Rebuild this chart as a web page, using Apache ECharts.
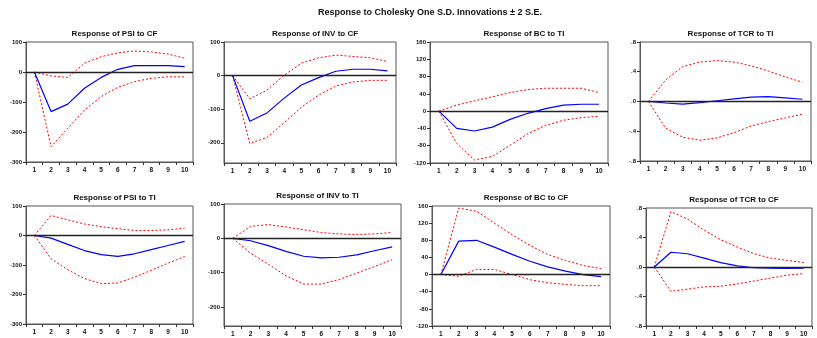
<!DOCTYPE html>
<html><head><meta charset="utf-8">
<script src="https://cdn.jsdelivr.net/npm/echarts@6/dist/echarts.min.js"></script>
<style>html,body{margin:0;padding:0;background:#fff}#c{width:817px;height:338px}</style>
</head><body><div id="c"></div>
<script>
const periods = ['1','2','3','4','5','6','7','8','9','10'];
const mainTitle = 'Response to Cholesky One S.D. Innovations \u00b1 2 S.E.';
const titles = ['Response of PSI to CF','Response of INV to CF','Response of BC to TI','Response of TCR to TI',
                'Response of PSI to TI','Response of INV to TI','Response of BC to CF','Response of TCR to CF'];
// impulse responses (blue), upper band and lower band (red)
const psiCF = [0,-132,-107,-54,-18,9,21,21,21,18];
const psiCFUp = [0,-13,-18,29,51,64,70,67,60,46];
const psiCFLo = [0,-249,-188,-127,-82,-51,-32,-21,-16,-16];
const invCF = [0,-136,-111,-67,-28,-6,13,19,19,14];
const invCFUp = [0,-69,-43,1,37,53,61,57,53,42];
const invCFLo = [0,-202,-184,-140,-94,-58,-31,-19,-14,-14];
const bcTI = [0,-40,-46,-37,-19,-5,6,14,16,16];
const bcTIUp = [0,14,24,33,43,50,53,53,53,43];
const bcTILo = [0,-75,-113,-105,-79,-52,-33,-21,-15,-12];
const tcrTI = [0,-0.02,-0.035,-0.015,0.01,0.035,0.06,0.065,0.05,0.03];
const tcrTIUp = [0,0.29,0.47,0.53,0.55,0.53,0.48,0.41,0.33,0.26];
const tcrTILo = [0,-0.36,-0.48,-0.52,-0.49,-0.42,-0.33,-0.27,-0.22,-0.17];
const psiTI = [0,-9,-30,-51,-65,-71,-62,-48,-34,-20];
const psiTIUp = [0,68,53,39,30,23,17,17,19,25];
const psiTILo = [0,-79,-116,-146,-163,-161,-141,-118,-94,-71];
const invTI = [0,-7,-21,-38,-52,-57,-55,-48,-36,-25];
const invTIUp = [0,35,40,33,25,17,13,11,13,17];
const invTILo = [0,-43,-75,-109,-133,-133,-120,-101,-82,-62];
const bcCF = [0,78,80,64,47,31,18,8,0,-5];
const bcCFUp = [0,155,148,120,93,68,47,33,21,14];
const bcCFLo = [0,-4,12,12,0,-12,-19,-23,-26,-26];
const tcrCF = [0,0.20,0.18,0.12,0.06,0.015,-0.01,-0.015,-0.02,-0.015];
const tcrCFUp = [0,0.75,0.65,0.50,0.37,0.27,0.18,0.12,0.09,0.06];
const tcrCFLo = [0,-0.33,-0.30,-0.27,-0.26,-0.23,-0.19,-0.15,-0.11,-0.09];
// y-axis tick labels
const ticksPSI = [100,0,-100,-200,-300];
const ticksINV = [100,0,-100,-200];
const ticksBC = [160,120,80,40,0,-40,-80,-120];
const ticksTCR = [0.8,0.4,0,-0.4,-0.8];

const panels = [
  {data:[psiCF,psiCFUp,psiCFLo], min:-300, max:100, ticks:ticksPSI, g:[26,42,167,120]},
  {data:[invCF,invCFUp,invCFLo], min:-260, max:100, ticks:ticksINV, g:[224,42,172,121]},
  {data:[bcTI,bcTIUp,bcTILo], min:-120, max:160, ticks:ticksBC, g:[430,42,178,121]},
  {data:[tcrTI,tcrTIUp,tcrTILo], min:-0.8, max:0.8, ticks:ticksTCR, g:[640,42,171,119], dec:true},
  {data:[psiTI,psiTIUp,psiTILo], min:-300, max:100, ticks:ticksPSI, g:[26,206,167,118]},
  {data:[invTI,invTIUp,invTILo], min:-255, max:100, ticks:ticksINV, g:[224,204,177,122]},
  {data:[bcCF,bcCFUp,bcCFLo], min:-120, max:160, ticks:ticksBC, g:[432,206,178,120]},
  {data:[tcrCF,tcrCFUp,tcrCFLo], min:-0.8, max:0.8, ticks:ticksTCR, g:[646,208,166,119], dec:true}
];
const FONT = 'Liberation Sans';
const grid=[], xAxis=[], yAxis=[], series=[], title=[];
title.push({text:mainTitle, left:425, top:3, textAlign:'center',
  textStyle:{fontFamily:FONT, fontSize:9, fontWeight:'bold', color:'#111'}});
panels.forEach((p,i)=>{
  const [l,t,w,h]=p.g;
  grid.push({left:l, top:t, width:w, height:h, show:true, borderColor:'#555', borderWidth:1, backgroundColor:'#fff'});
  title.push({text:titles[i], left:l+w/2, top:t-17, textAlign:'center',
    textStyle:{fontFamily:FONT, fontSize:8, fontWeight:'bold', color:'#111'}});
  xAxis.push({type:'category', gridIndex:i, data:periods, boundaryGap:true, position:'bottom',
    axisLine:{onZero:false, lineStyle:{color:'#555'}},
    axisTick:{show:true, inside:false, length:3, lineStyle:{color:'#333'}},
    axisLabel:{fontFamily:FONT, fontSize:6.5, fontWeight:'bold', color:'#111', margin:5, interval:0},
    splitLine:{show:false}});
  yAxis.push({type:'value', gridIndex:i, min:p.min, max:p.max,
    axisLine:{show:true, lineStyle:{color:'#555'}},
    axisTick:{show:true, length:3, customValues:p.ticks, lineStyle:{color:'#333'}},
    axisLabel:{fontFamily:FONT, fontSize:6, fontWeight:'bold', color:'#111', margin:4, customValues:p.ticks,
      formatter: v => p.dec ? (v===0 ? '.0' : (v<0?'-':'') + '.' + Math.round(Math.abs(v)*10)) : String(v)},
    splitLine:{show:false}});
  series.push({type:'line', xAxisIndex:i, yAxisIndex:i, data:p.data[0], symbol:'none', animation:false,
    lineStyle:{color:'#0000ff', width:1.2}, z:3,
    markLine:{silent:true, symbol:'none', label:{show:false}, animation:false,
      lineStyle:{color:'#222', width:1.3, type:'solid'}, data:[{yAxis:0}]}});
  series.push({type:'line', xAxisIndex:i, yAxisIndex:i, data:p.data[1], symbol:'none', animation:false,
    lineStyle:{color:'#ff0000', width:1, type:[2,2]}, z:2});
  series.push({type:'line', xAxisIndex:i, yAxisIndex:i, data:p.data[2], symbol:'none', animation:false,
    lineStyle:{color:'#ff0000', width:1, type:[2,2]}, z:2});
});
const chart = echarts.init(document.getElementById('c'), null, {renderer:'canvas'});
chart.setOption({backgroundColor:'#fff', animation:false, title, grid, xAxis, yAxis, series});
</script></body></html>
